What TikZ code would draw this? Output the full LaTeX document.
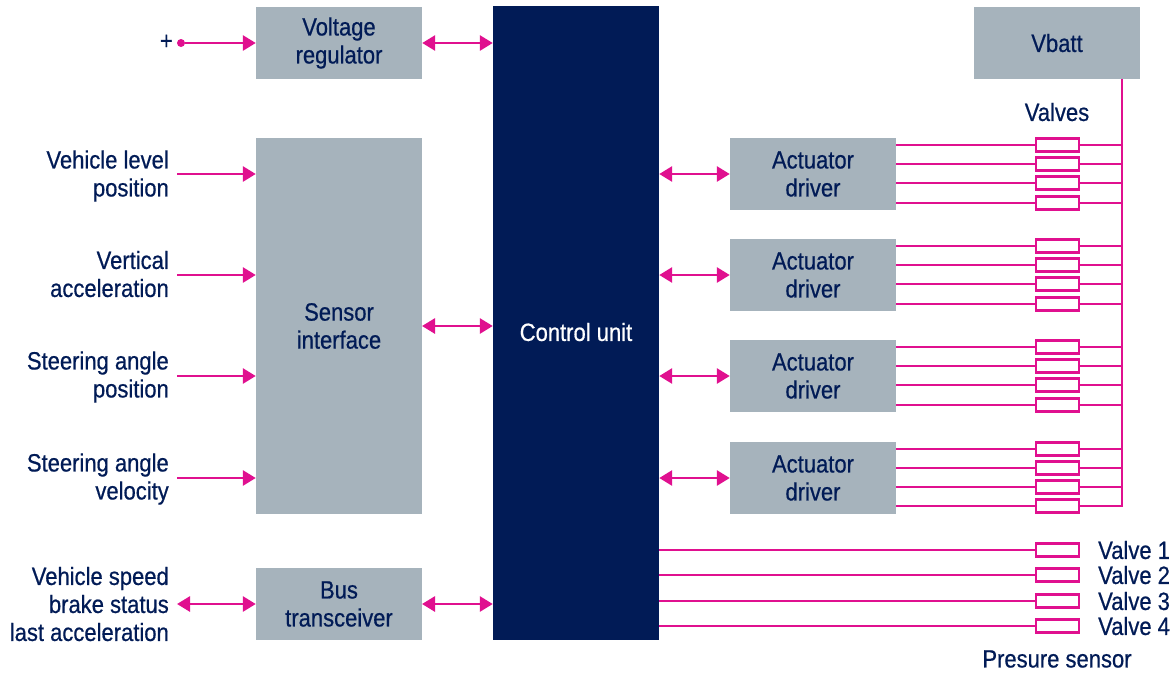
\documentclass[tikz,border=0pt]{standalone}
\usepackage{fontspec}
\setmainfont[FakeStretch=0.88, FakeBold=0.6]{Liberation Sans}
\usetikzlibrary{arrows.meta}
\definecolor{navy}{HTML}{011B56}
\definecolor{slate}{HTML}{A6B3BC}
\definecolor{wire}{HTML}{E0108F}
\tikzset{
  txt/.style={text=navy, font=\fontsize{25}{28}\selectfont, inner sep=0pt, align=center},
  lbl/.style={txt, align=right, anchor=east},
  block/.style={txt, fill=slate, minimum width=166pt, minimum height=72pt},
  valve/.style={draw=wire, line width=2.8pt, fill=white, minimum width=43pt, minimum height=13pt, inner sep=0pt},
  wr/.style={draw=wire, line width=2.8pt},
  sig/.style={wr, -{Triangle[length=13pt, width=15pt]}},
  dbl/.style={wr, {Triangle[length=13pt, width=15pt]}-{Triangle[length=13pt, width=15pt]}}
}
\begin{document}
\begin{tikzpicture}[x=1pt, y=-1pt]
      \useasboundingbox (0,0) rectangle (1173,673);

      \node[block] (vr) at (339,43) {Voltage\\regulator};
      \node[block, minimum height=376pt] (si) at (339,326) {Sensor\\interface};
      \node[block] (bt) at (339,604) {Bus\\transceiver};
      \node[fill=navy, minimum width=166pt, minimum height=634pt, inner sep=0pt] (cu) at (576,323) {};
      \node[txt, text=white] (cutxt) at (576,332) {Control unit};
      \node[block] (vb) at (1057,43) {Vbatt};
      \node[block] (a1) at (813,174) {Actuator\\driver};
      \node[block] (a2) at (813,275) {Actuator\\driver};
      \node[block] (a3) at (813,376) {Actuator\\driver};
      \node[block] (a4) at (813,478) {Actuator\\driver};

      \node[lbl] (plus) at (173,42) {+};
      \node[circle, fill=wire, inner sep=0pt, minimum size=8pt] (dot) at (181,43) {};
      \node[lbl] (l1) at (169,176) {Vehicle level\\position};
      \node[lbl] (l2) at (169,274) {Vertical\\acceleration};
      \node[lbl] (l3) at (169,377) {Steering angle\\position};
      \node[lbl] (l4) at (169,479) {Steering angle\\velocity};
      \node[lbl] (l5) at (169,604) {Vehicle speed\\brake status\\last acceleration};

      \coordinate (c1) at (177,174);
      \coordinate (c2) at (177,275);
      \coordinate (c3) at (177,376);
      \coordinate (c4) at (177,478);
      \coordinate (c5) at (177,604);
      \coordinate (bus) at (1122,79);

      \node[valve] (v1) at (1057.5,145) {};
      \node[valve] (v2) at (1057.5,164) {};
      \node[valve] (v3) at (1057.5,183) {};
      \node[valve] (v4) at (1057.5,203) {};
      \node[valve] (v5) at (1057.5,246) {};
      \node[valve] (v6) at (1057.5,265) {};
      \node[valve] (v7) at (1057.5,284) {};
      \node[valve] (v8) at (1057.5,304) {};
      \node[valve] (v9) at (1057.5,347) {};
      \node[valve] (v10) at (1057.5,366) {};
      \node[valve] (v11) at (1057.5,385) {};
      \node[valve] (v12) at (1057.5,405) {};
      \node[valve] (v13) at (1057.5,449) {};
      \node[valve] (v14) at (1057.5,468) {};
      \node[valve] (v15) at (1057.5,487) {};
      \node[valve] (v16) at (1057.5,506) {};
      \node[valve] (p1) at (1057.5,550) {};
      \node[valve] (p2) at (1057.5,575) {};
      \node[valve] (p3) at (1057.5,601) {};
      \node[valve] (p4) at (1057.5,626) {};

      \node[txt] (vlv) at (1057,112) {Valves};
      \node[txt, anchor=west] (t1) at (1098,550) {Valve 1};
      \node[txt, anchor=west] (t2) at (1098,575) {Valve 2};
      \node[txt, anchor=west] (t3) at (1098,601) {Valve 3};
      \node[txt, anchor=west] (t4) at (1098,626) {Valve 4};
      \node[txt] (ps) at (1057,659) {Presure sensor};

      \draw[sig] (dot) -- (vr);
      \draw[dbl] (vr) -- (vr -| cu.west);
      \draw[dbl] (si) ++(83,0) -- (si -| cu.west);
      \draw[dbl] (bt) ++(83,0) -- (bt -| cu.west);
      \draw[sig] (c1) -- (c1 -| si.west);
      \draw[sig] (c2) -- (c2 -| si.west);
      \draw[sig] (c3) -- (c3 -| si.west);
      \draw[sig] (c4) -- (c4 -| si.west);
      \draw[dbl] (c5) -- (bt.west);
      \draw[dbl] (a1 -| cu.east) -- (a1.west);
      \draw[dbl] (a2 -| cu.east) -- (a2.west);
      \draw[dbl] (a3 -| cu.east) -- (a3.west);
      \draw[dbl] (a4 -| cu.east) -- (a4.west);

      \draw[wr] (v1 -| a1.east) -- (v1.west) (v1.east) -- (v1 -| bus);
      \draw[wr] (v2 -| a1.east) -- (v2.west) (v2.east) -- (v2 -| bus);
      \draw[wr] (v3 -| a1.east) -- (v3.west) (v3.east) -- (v3 -| bus);
      \draw[wr] (v4 -| a1.east) -- (v4.west) (v4.east) -- (v4 -| bus);
      \draw[wr] (v5 -| a2.east) -- (v5.west) (v5.east) -- (v5 -| bus);
      \draw[wr] (v6 -| a2.east) -- (v6.west) (v6.east) -- (v6 -| bus);
      \draw[wr] (v7 -| a2.east) -- (v7.west) (v7.east) -- (v7 -| bus);
      \draw[wr] (v8 -| a2.east) -- (v8.west) (v8.east) -- (v8 -| bus);
      \draw[wr] (v9 -| a3.east) -- (v9.west) (v9.east) -- (v9 -| bus);
      \draw[wr] (v10 -| a3.east) -- (v10.west) (v10.east) -- (v10 -| bus);
      \draw[wr] (v11 -| a3.east) -- (v11.west) (v11.east) -- (v11 -| bus);
      \draw[wr] (v12 -| a3.east) -- (v12.west) (v12.east) -- (v12 -| bus);
      \draw[wr] (v13 -| a4.east) -- (v13.west) (v13.east) -- (v13 -| bus);
      \draw[wr] (v14 -| a4.east) -- (v14.west) (v14.east) -- (v14 -| bus);
      \draw[wr] (v15 -| a4.east) -- (v15.west) (v15.east) -- (v15 -| bus);
      \draw[wr] (v16 -| a4.east) -- (v16.west);
      \draw[wr] (bus) |- (v16.east);

      \draw[wr] (p1 -| cu.east) -- (p1.west);
      \draw[wr] (p2 -| cu.east) -- (p2.west);
      \draw[wr] (p3 -| cu.east) -- (p3.west);
      \draw[wr] (p4 -| cu.east) -- (p4.west);
    \end{tikzpicture}
\end{document}
